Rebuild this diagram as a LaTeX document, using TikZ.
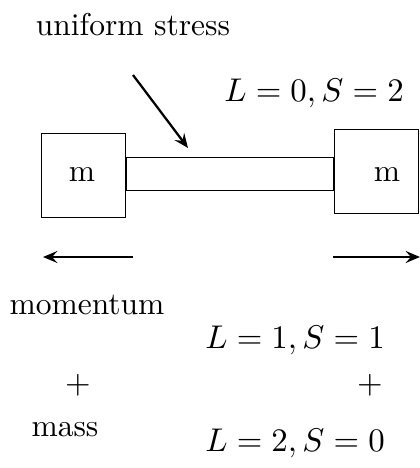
\documentclass[tikz,border=0pt]{standalone}
\usetikzlibrary{arrows.meta,positioning}
\begin{document}
\begin{tikzpicture}[x=0.3333pt, y=-0.3333pt,
  every node/.style={font=\fontsize{10.5}{12.6}\selectfont},
  massbox/.style={draw, line width=0.3pt, minimum size=28pt, inner sep=0pt},
  force/.style={line width=0.75pt, -{Stealth[length=4.8pt, width=4pt, inset=1.8pt]}}]
\useasboundingbox (0,0) rectangle (419,468);
% Masses and rod
\node[massbox] (lmass) at (83.5,175) {};
\node[massbox] (rmass) at (376,171.5) {};
\draw[line width=0.3pt] (lmass.east |- 0,157) rectangle (rmass.west |- 0,190);
\node (lm) at (82,175) {m};
\node (rm) at (387,175) {m};
% Stress
\node (stress) at (133,25) {uniform stress};
\coordinate (stail) at (133,75);
\coordinate (stip) at (188,148);
\draw[force] (stail) -- (stip);
\node (lzero) at (314,93) {$L=0, S=2$};
% Momentum arrows
\coordinate (ltail) at (133,257);
\coordinate (ltip) at (43,257);
\coordinate (rtail) at (333,257);
\coordinate (rtip) at (420,257);
\draw[force] (ltail) -- (ltip);
\draw[force] (rtail) -- (rtip);
% Labels below
\node (mom) at (87,305) {momentum};
\node (lplus) at (78,385) {$+$};
\node (mass) at (65,430) {mass};
\node (lone) at (295,340) {$L=1, S=1$};
\node (rplus) at (370,385) {$+$};
\node (ltwo) at (295,443) {$L=2, S=0$};
\end{tikzpicture}
\end{document}
